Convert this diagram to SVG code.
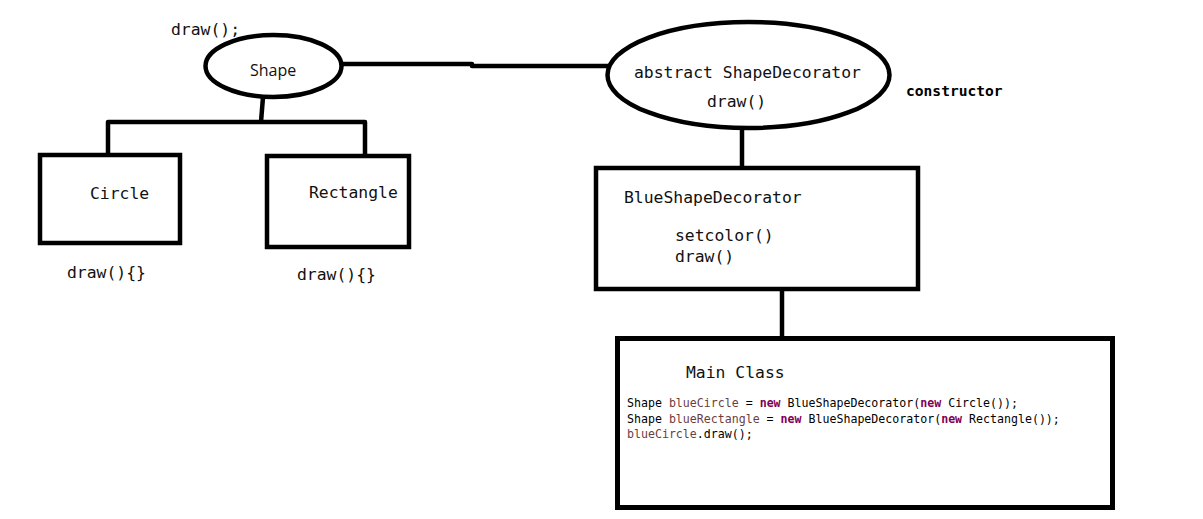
<svg xmlns="http://www.w3.org/2000/svg" width="1203" height="519" viewBox="0 0 1203 519">
<style>
.bg{fill:#fff}
.sh{fill:#fff;stroke:#000;stroke-width:4.5}
.ln{fill:none;stroke:#000;stroke-width:4.5;stroke-linejoin:round}
.t{font-family:"DejaVu Sans Mono","Liberation Mono",monospace;font-size:16.4px;fill:#111}
.s{font-family:"Open Sans","Liberation Sans",sans-serif;font-size:16px;fill:#111}
.b{font-family:"DejaVu Sans Mono","Liberation Mono",monospace;font-size:14.6px;font-weight:bold;fill:#000}
.c{font-family:"DejaVu Sans Mono","Liberation Mono",monospace;font-size:11.6px;fill:#000}
.v{fill:#6A3E3E}
.k{fill:#7F0055;font-weight:bold}
</style>
<rect class="bg" x="0" y="0" width="1203" height="519"/>
<g id="connectors">
<polyline class="ln" points="342,64 472,64 472,66 609,66"/>
<polyline class="ln" points="263,97 261,122"/>
<polyline class="ln" points="108,155 108,122 365,122 365,156"/>
<line class="ln" x1="742" y1="128" x2="742" y2="168"/>
<line class="ln" x1="782" y1="290" x2="782" y2="338"/>
</g>
<g id="shape">
<ellipse class="sh" cx="273.5" cy="66" rx="68" ry="31"/>
<text class="s" x="250" y="76">Shape</text>
<text class="t" x="171" y="35">draw();</text>
</g>
<g id="circle">
<rect class="sh" x="40" y="155" width="140" height="88"/>
<text class="t" x="90" y="199">Circle</text>
<text class="t" x="67" y="278">draw(){}</text>
</g>
<g id="rectangle">
<rect class="sh" x="267" y="156" width="142" height="91"/>
<text class="t" x="309" y="198">Rectangle</text>
<text class="t" x="297" y="280">draw(){}</text>
</g>
<g id="shapeDecorator">
<ellipse class="sh" cx="748.5" cy="75" rx="141" ry="53"/>
<text class="t" x="634" y="78">abstract ShapeDecorator</text>
<text class="t" x="707" y="107">draw()</text>
<text class="b" x="906" y="96">constructor</text>
</g>
<g id="blueShapeDecorator">
<rect class="sh" x="596" y="168" width="322" height="121"/>
<text class="t" x="624" y="203">BlueShapeDecorator</text>
<text class="t" x="675" y="241">setcolor()</text>
<text class="t" x="675" y="262">draw()</text>
</g>
<g id="mainClass">
<rect class="sh" x="617.5" y="338.5" width="495" height="169" style="stroke-width:5"/>
<text class="t" x="686" y="378">Main Class</text>
<text class="c" x="627" y="407">Shape <tspan class="v">blueCircle</tspan> = <tspan class="k">new</tspan> BlueShapeDecorator(<tspan class="k">new</tspan> Circle());</text>
<text class="c" x="627" y="423">Shape <tspan class="v">blueRectangle</tspan> = <tspan class="k">new</tspan> BlueShapeDecorator(<tspan class="k">new</tspan> Rectangle());</text>
<text class="c" x="627" y="438"><tspan class="v">blueCircle</tspan>.draw();</text>
</g>
</svg>
